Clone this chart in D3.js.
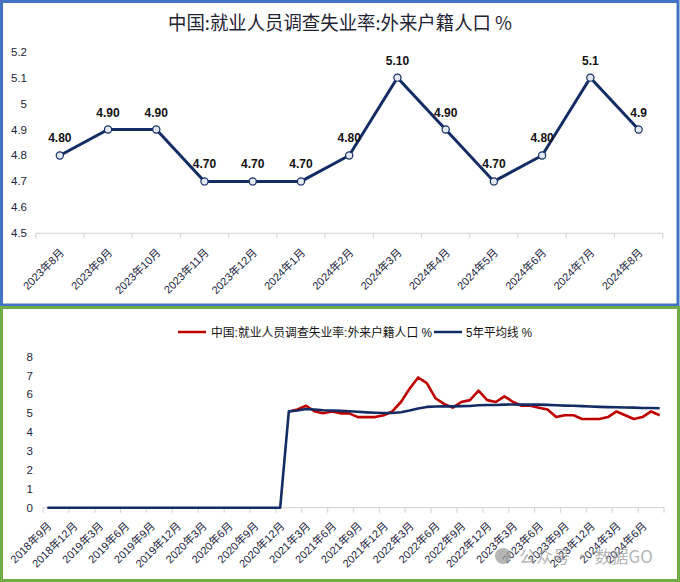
<!DOCTYPE html>
<html><head><meta charset="utf-8">
<script src="https://cdn.jsdelivr.net/npm/d3@7/dist/d3.min.js"></script>
<style>
html,body{margin:0;padding:0;background:#fff;}
svg{display:block;font-family:"Liberation Sans","Noto Sans CJK SC",sans-serif;}
</style></head>
<body>
<svg id="c" width="680" height="582"></svg>
<script>
// ---------- data ----------
const topTitle = "中国:就业人员调查失业率:外来户籍人口 %";
const topMonths = ["2023年8月","2023年9月","2023年10月","2023年11月","2023年12月","2024年1月","2024年2月","2024年3月","2024年4月","2024年5月","2024年6月","2024年7月","2024年8月"];
const topValues = [4.8,4.9,4.9,4.7,4.7,4.7,4.8,5.1,4.9,4.7,4.8,5.1,4.9];
const topLabels = ["4.80","4.90","4.90","4.70","4.70","4.70","4.80","5.10","4.90","4.70","4.80","5.1","4.9"];
const topYTicks = [4.5,4.6,4.7,4.8,4.9,5,5.1,5.2];

const months = [
 "2018年9月","2018年10月","2018年11月","2018年12月",
 "2019年1月","2019年2月","2019年3月","2019年4月","2019年5月","2019年6月","2019年7月","2019年8月","2019年9月","2019年10月","2019年11月","2019年12月",
 "2020年1月","2020年2月","2020年3月","2020年4月","2020年5月","2020年6月","2020年7月","2020年8月","2020年9月","2020年10月","2020年11月","2020年12月",
 "2021年1月","2021年2月","2021年3月","2021年4月","2021年5月","2021年6月","2021年7月","2021年8月","2021年9月","2021年10月","2021年11月","2021年12月",
 "2022年1月","2022年2月","2022年3月","2022年4月","2022年5月","2022年6月","2022年7月","2022年8月","2022年9月","2022年10月","2022年11月","2022年12月",
 "2023年1月","2023年2月","2023年3月","2023年4月","2023年5月","2023年6月","2023年7月","2023年8月","2023年9月","2023年10月","2023年11月","2023年12月",
 "2024年1月","2024年2月","2024年3月","2024年4月","2024年5月","2024年6月","2024年7月","2024年8月"];
const migrantRate = [
 null,null,null,null, null,null,null,null,null,null,null,null,null,null,null,null,
 null,null,null,null,null,null,null,null,null,null,null,null,
 5.1,5.2,5.4,5.1,5.0,5.1,5.0,5.0,4.8,4.8,4.8,4.9,
 5.1,5.6,6.3,6.9,6.6,5.8,5.5,5.3,5.6,5.7,6.2,5.7,
 5.6,5.9,5.6,5.4,5.4,5.3,5.2,4.8,4.9,4.9,4.7,4.7,
 4.7,4.8,5.1,4.9,4.7,4.8,5.1,4.9];
const avg5y = [
 0,0,0,0, 0,0,0,0,0,0,0,0,0,0,0,0,
 0,0,0,0,0,0,0,0,0,0,0,0,
 5.10,5.15,5.23,5.20,5.16,5.15,5.13,5.11,5.08,5.05,5.03,5.02,
 5.02,5.06,5.15,5.26,5.34,5.36,5.37,5.37,5.38,5.39,5.43,5.44,
 5.44,5.46,5.47,5.46,5.46,5.46,5.45,5.43,5.41,5.40,5.38,5.36,
 5.34,5.33,5.32,5.31,5.30,5.28,5.28,5.27];
const bottomYTicks = [0,1,2,3,4,5,6,7,8];
const legendNames = ["中国:就业人员调查失业率:外来户籍人口 %","5年平均线 %"];

// ---------- drawing ----------
const svg = d3.select("#c");
const navy = "#132c64", red = "#c00000", labelCol = "#1b2440", axisCol = "#d9d9d9";

// panel borders
svg.append("rect").attr("x",1.5).attr("y",1.5).attr("width",676.5).attr("height",303.5)
  .attr("fill","none").attr("stroke","#4472c4").attr("stroke-width",3);
svg.append("rect").attr("x",1.5).attr("y",307.5).attr("width",677).attr("height",273)
  .attr("fill","none").attr("stroke","#70ad47").attr("stroke-width",3);

// ===== top chart =====
svg.append("text").attr("x",340).attr("y",30).attr("text-anchor","middle")
  .attr("font-family","'Noto Sans CJK SC',sans-serif").attr("font-size",19)
  .attr("fill","#1e2433").attr("textLength",344).attr("lengthAdjust","spacingAndGlyphs")
  .text(topTitle);

const tx = d3.scaleBand().domain(topMonths).range([35.7,662.7]).padding(0);
const ty = d3.scaleLinear().domain([4.5,5.2]).range([233.3,51.7]);
const tcx = d => tx(d) + tx.bandwidth()/2;

const tAxis = svg.append("g").attr("transform","translate(0,233.3)");
tAxis.append("line").attr("x1",35.7).attr("x2",662.7).attr("stroke",axisCol).attr("stroke-width",1.3);
const tBounds = topMonths.map(m=>tx(m)).concat([662.7]);
tAxis.selectAll("line.tk").data(tBounds).join("line").attr("class","tk")
  .attr("x1",d=>d).attr("x2",d=>d).attr("y1",0).attr("y2",5).attr("stroke",axisCol).attr("stroke-width",1.3);
svg.append("g").selectAll("text").data(topMonths).join("text")
  .attr("transform",d=>`translate(${tcx(d)+5},${233.3+20}) rotate(-45)`)
  .attr("text-anchor","end").attr("font-size",11).attr("fill",labelCol).text(d=>d);

svg.append("g").selectAll("text").data(topYTicks).join("text")
  .attr("x",27).attr("y",d=>ty(d)+4).attr("text-anchor","end")
  .attr("font-size",11.5).attr("fill",labelCol).text(d=>d3.format("")(d));

const tLine = d3.line().x((d,i)=>tcx(topMonths[i])).y(d=>ty(d));
svg.append("path").datum(topValues).attr("d",tLine).attr("fill","none")
  .attr("stroke",navy).attr("stroke-width",3).attr("stroke-linejoin","miter");
svg.append("g").selectAll("circle").data(topValues).join("circle")
  .attr("cx",(d,i)=>tcx(topMonths[i])).attr("cy",d=>ty(d)).attr("r",3.6)
  .attr("fill","#e4e9f3").attr("stroke",navy).attr("stroke-width",1.2);
svg.append("g").selectAll("text").data(topValues).join("text")
  .attr("x",(d,i)=>tcx(topMonths[i])).attr("y",d=>ty(d)-13)
  .attr("text-anchor","middle").attr("font-size",12).attr("font-weight","bold")
  .attr("fill","#111").text((d,i)=>topLabels[i]);

// ===== bottom chart =====
const bx = d3.scaleBand().domain(months).range([43,664]).padding(0);
const by = d3.scaleLinear().domain([0,8]).range([507.7,356.7]);
const bcx = d => bx(d) + bx.bandwidth()/2;

// legend
const lg = svg.append("g").attr("font-size",12).attr("fill","#111");
lg.append("line").attr("x1",178).attr("x2",206).attr("y1",332).attr("y2",332).attr("stroke",red).attr("stroke-width",2.5);
lg.append("text").attr("x",211).attr("y",336.5).attr("textLength",221).attr("lengthAdjust","spacingAndGlyphs").text(legendNames[0]);
lg.append("line").attr("x1",434).attr("x2",462).attr("y1",332).attr("y2",332).attr("stroke",navy).attr("stroke-width",2.5);
lg.append("text").attr("x",466).attr("y",336.5).attr("textLength",66).attr("lengthAdjust","spacingAndGlyphs").text(legendNames[1]);

svg.append("g").selectAll("text").data(bottomYTicks).join("text")
  .attr("x",33).attr("y",d=>by(d)+4).attr("text-anchor","end")
  .attr("font-size",11.5).attr("fill",labelCol).text(d=>d);

const bAxis = svg.append("g").attr("transform","translate(0,507.7)");
bAxis.append("line").attr("x1",43).attr("x2",664).attr("stroke",axisCol).attr("stroke-width",1.3);
const bTickMonths = months.filter((m,i)=>i%3===0);
const bBounds = bTickMonths.map(m=>bx(m)).concat([664]);
bAxis.selectAll("line.tk").data(bBounds).join("line").attr("class","tk")
  .attr("x1",d=>d).attr("x2",d=>d).attr("y1",0).attr("y2",5).attr("stroke",axisCol).attr("stroke-width",1.3);
svg.append("g").selectAll("text").data(bTickMonths).join("text")
  .attr("transform",d=>`translate(${bcx(d)+5},${507.7+19}) rotate(-45)`)
  .attr("text-anchor","end").attr("font-size",11).attr("fill",labelCol).text(d=>d);

const bLine = d3.line().defined(d=>d!=null).x((d,i)=>bcx(months[i])).y(d=>by(d));
svg.append("path").datum(migrantRate).attr("d",bLine).attr("fill","none")
  .attr("stroke",red).attr("stroke-width",2.6).attr("stroke-linejoin","round");
svg.append("path").datum(avg5y).attr("d",bLine).attr("fill","none")
  .attr("stroke",navy).attr("stroke-width",2.6).attr("stroke-linejoin","round");

// watermark
const wm = svg.append("g").attr("opacity",0.75).attr("fill","#9c9c9c");
wm.append("circle").attr("cx",503).attr("cy",556).attr("r",8);
wm.append("text").attr("x",519).attr("y",563).attr("font-family","'Noto Sans CJK SC',sans-serif").attr("font-size",17).text("公众号 · 数据GO");
</script>
</body></html>
